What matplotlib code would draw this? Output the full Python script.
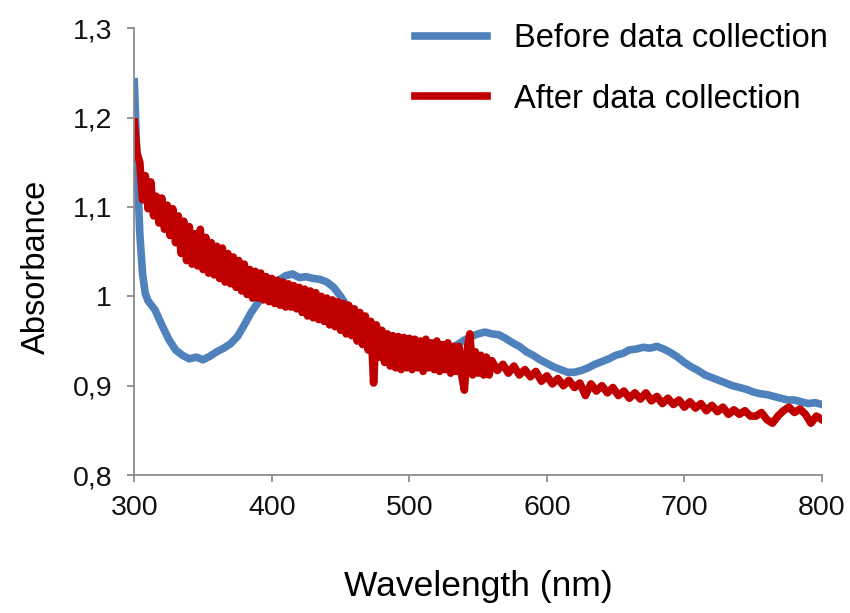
import matplotlib
matplotlib.use('Agg')
import matplotlib.pyplot as plt

plt.rcParams['font.family'] = ['Liberation Sans', 'DejaVu Sans']

# Before data collection (blue)
before_nm = [300, 302, 304, 306, 308] + list(range(310, 801, 5))
before_abs = [1.240, 1.150, 1.070, 1.025, 1.003,
              0.995, 0.985, 0.968, 0.952, 0.940, 0.934, 0.930, 0.932, 0.929, 0.933,
              0.938, 0.942, 0.947, 0.955, 0.968, 0.982, 0.993, 1.003, 1.012, 1.018,
              1.023, 1.025, 1.021, 1.022, 1.020, 1.019, 1.016, 1.010, 1.000, 0.988,
              0.978, 0.968, 0.960, 0.956, 0.952, 0.950, 0.951, 0.948, 0.949, 0.948,
              0.946, 0.945, 0.943, 0.943, 0.942, 0.946, 0.951, 0.955, 0.958, 0.960,
              0.958, 0.957, 0.953, 0.948, 0.944, 0.938, 0.934, 0.929, 0.925, 0.921,
              0.918, 0.915, 0.915, 0.917, 0.920, 0.924, 0.927, 0.930, 0.934, 0.936,
              0.940, 0.941, 0.943, 0.942, 0.944, 0.941, 0.937, 0.932, 0.926, 0.921,
              0.917, 0.912, 0.909, 0.906, 0.903, 0.900, 0.898, 0.896, 0.893, 0.891,
              0.890, 0.888, 0.886, 0.884, 0.884, 0.882, 0.880, 0.881, 0.879]

# After data collection (red): every 2 nm up to 560, then every 4 nm
after_nm = list(range(300, 560, 2)) + list(range(560, 801, 4))
after_abs = [1.195, 1.160, 1.150, 1.108, 1.135, 1.098, 1.128, 1.090, 1.112, 1.082,
             1.110, 1.075, 1.102, 1.068, 1.098, 1.060, 1.090, 1.048, 1.084, 1.040,
             1.078, 1.036, 1.070, 1.034, 1.075, 1.030, 1.066, 1.026, 1.060, 1.024,
             1.056, 1.020, 1.054, 1.016, 1.048, 1.014, 1.044, 1.010, 1.040, 1.006,
             1.036, 1.002, 1.030, 0.998, 1.028, 0.998, 1.026, 0.996, 1.022, 0.994,
             1.020, 0.992, 1.018, 0.990, 1.016, 0.988, 1.014, 0.988, 1.012, 0.986,
             1.010, 0.982, 1.008, 0.978, 1.006, 0.976, 1.004, 0.974, 1.000, 0.972,
             0.998, 0.968, 0.996, 0.966, 0.994, 0.962, 0.992, 0.958, 0.990, 0.956,
             0.986, 0.950, 0.982, 0.946, 0.978, 0.940, 0.972, 0.903, 0.968, 0.932,
             0.962, 0.926, 0.958, 0.922, 0.956, 0.920, 0.955, 0.918, 0.954, 0.920,
             0.953, 0.918, 0.952, 0.920, 0.950, 0.916, 0.952, 0.920, 0.948, 0.918,
             0.950, 0.916, 0.946, 0.918, 0.948, 0.914, 0.944, 0.916, 0.944, 0.912,
             0.895, 0.940, 0.958, 0.912, 0.938, 0.914, 0.934, 0.912, 0.932, 0.912,
             0.928,
             0.917, 0.924, 0.914, 0.922, 0.912, 0.918, 0.910, 0.916, 0.905, 0.911,
             0.902, 0.908, 0.900, 0.906, 0.898, 0.903, 0.889, 0.902, 0.894, 0.900,
             0.892, 0.898, 0.889, 0.894, 0.886, 0.892, 0.885, 0.892, 0.883, 0.888,
             0.880, 0.886, 0.879, 0.884, 0.876, 0.882, 0.875, 0.880, 0.872, 0.878,
             0.871, 0.876, 0.868, 0.873, 0.868, 0.872, 0.866, 0.866, 0.870, 0.862,
             0.858, 0.866, 0.872, 0.876, 0.870, 0.874, 0.868, 0.858, 0.866, 0.862]

x_ticks = [300, 400, 500, 600, 700, 800]
y_ticks = [0.8, 0.9, 1.0, 1.1, 1.2, 1.3]
y_ticklabels = ['0,8', '0,9', '1', '1,1', '1,2', '1,3']

fig = plt.figure(figsize=(8.5, 6.13), dpi=100)
ax = fig.add_axes([0.158, 0.225, 0.809, 0.729])

ax.plot(before_nm, before_abs, color='#4F81BD', lw=5.5,
        solid_joinstyle='round', label='Before data collection')
ax.plot(after_nm, after_abs, color='#C00000', lw=5.5,
        solid_joinstyle='round', label='After data collection')

ax.set_xlim(300, 800)
ax.set_ylim(0.8, 1.3)
ax.set_xticks(x_ticks)
ax.set_yticks(y_ticks)
ax.set_yticklabels(y_ticklabels)

for s in ['top', 'right']:
    ax.spines[s].set_visible(False)
for s in ['left', 'bottom']:
    ax.spines[s].set_color('#8c8c8c')
    ax.spines[s].set_linewidth(1.3)
ax.tick_params(direction='out', length=5, width=1.3, color='#8c8c8c',
               labelsize=20.5, labelcolor='#111111')
ax.tick_params(axis='x', pad=9)
ax.tick_params(axis='y', pad=11)

ax.set_xlabel('Wavelength (nm)', fontsize=25.5)
ax.xaxis.set_label_coords(0.5, -0.212)
ax.set_ylabel('Absorbance', fontsize=23.5)
ax.yaxis.set_label_coords(-0.12, 0.465)

ax.legend(loc='upper left', bbox_to_anchor=(0.488, 0.962),
          bbox_transform=fig.transFigure, frameon=False, fontsize=23.5,
          handlelength=2.2, handletextpad=0.85, labelspacing=0.9,
          borderpad=0, borderaxespad=0)

plt.savefig('out.png', dpi=100)
